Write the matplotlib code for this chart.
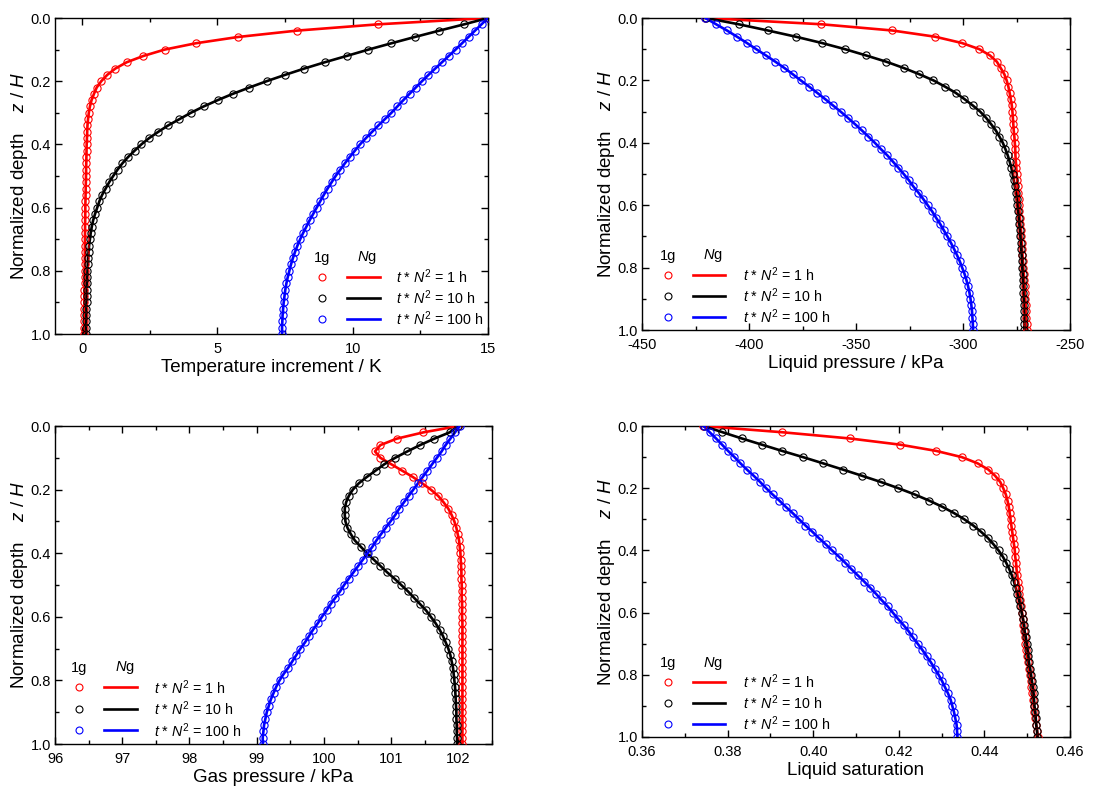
import numpy as np
import matplotlib
matplotlib.use("Agg")
import matplotlib.pyplot as plt
from matplotlib.lines import Line2D
from matplotlib.ticker import MultipleLocator, FormatStrFormatter

plt.rcParams['font.family'] = ['Liberation Sans', 'DejaVu Sans']
plt.rcParams['mathtext.fontset'] = 'custom'
plt.rcParams['mathtext.rm'] = 'Liberation Sans'
plt.rcParams['mathtext.it'] = 'Liberation Sans:italic'

# ---------------- data ----------------
depth = [0.00, 0.02, 0.04, 0.06, 0.08, 0.10, 0.12, 0.14, 0.16, 0.18,
         0.20, 0.22, 0.24, 0.26, 0.28, 0.30, 0.32, 0.34, 0.36, 0.38,
         0.40, 0.42, 0.44, 0.46, 0.48, 0.50, 0.52, 0.54, 0.56, 0.58,
         0.60, 0.62, 0.64, 0.66, 0.68, 0.70, 0.72, 0.74, 0.76, 0.78,
         0.80, 0.82, 0.84, 0.86, 0.88, 0.90, 0.92, 0.94, 0.96, 0.98, 1.00]

series_labels = ["1 h", "10 h", "100 h"]
series_colors = ["#ff0000", "#000000", "#0000ff"]

# Temperature increment / K
temp_1h = [15.00, 10.94, 7.93, 5.77, 4.20, 3.05, 2.27, 1.65, 1.23, 0.93,
           0.71, 0.54, 0.44, 0.35, 0.29, 0.25, 0.22, 0.20, 0.19, 0.18,
           0.17, 0.165, 0.16, 0.155, 0.15, 0.145, 0.14, 0.135, 0.13, 0.125,
           0.12, 0.118, 0.115, 0.112, 0.11, 0.108, 0.105, 0.103, 0.10, 0.098,
           0.096, 0.094, 0.092, 0.09, 0.088, 0.087, 0.085, 0.084, 0.082, 0.081, 0.08]
temp_10h = [15.00, 14.12, 13.20, 12.30, 11.43, 10.58, 9.78, 8.97, 8.21, 7.50,
            6.82, 6.18, 5.57, 5.01, 4.49, 4.02, 3.60, 3.18, 2.82, 2.48,
            2.19, 1.94, 1.70, 1.49, 1.31, 1.15, 1.00, 0.87, 0.74, 0.64,
            0.56, 0.48, 0.41, 0.36, 0.32, 0.29, 0.26, 0.24, 0.22, 0.21,
            0.20, 0.19, 0.18, 0.175, 0.17, 0.165, 0.16, 0.16, 0.155, 0.15, 0.15]
temp_100h = [15.00, 14.76, 14.52, 14.28, 14.04, 13.80, 13.55, 13.30, 13.05, 12.80,
             12.56, 12.33, 12.10, 11.87, 11.65, 11.43, 11.19, 10.95, 10.72, 10.49,
             10.27, 10.08, 9.89, 9.71, 9.54, 9.37, 9.22, 9.07, 8.93, 8.80,
             8.67, 8.54, 8.41, 8.29, 8.17, 8.06, 7.96, 7.87, 7.79, 7.72,
             7.66, 7.60, 7.55, 7.51, 7.48, 7.45, 7.43, 7.41, 7.40, 7.39, 7.39]

# Liquid pressure / kPa
pl_1h = [-420.4, -366.3, -333.1, -313.0, -300.6, -292.3, -287.4, -284.2, -282.4, -280.7,
         -279.6, -278.8, -278.2, -277.7, -277.2, -276.9, -276.7, -276.5, -276.3, -276.0,
         -275.8, -275.6, -275.5, -275.3, -275.1, -274.9, -274.7, -274.5, -274.3, -274.0,
         -273.8, -273.6, -273.4, -273.2, -272.9, -272.7, -272.5, -272.4, -272.2, -272.0,
         -271.8, -271.6, -271.4, -271.2, -271.1, -270.9, -270.7, -270.6, -270.4, -270.3, -270.2]
pl_10h = [-420.0, -404.9, -391.2, -378.1, -366.0, -355.1, -345.3, -335.9, -327.8, -320.5,
          -313.8, -308.4, -303.4, -299.3, -295.5, -292.0, -289.2, -286.9, -284.7, -283.0,
          -281.4, -280.2, -279.1, -278.2, -277.4, -276.8, -276.3, -275.8, -275.3, -274.9,
          -274.6, -274.3, -274.0, -273.7, -273.4, -273.2, -273.0, -272.8, -272.6, -272.4,
          -272.3, -272.1, -272.0, -271.9, -271.8, -271.6, -271.6, -271.5, -271.4, -271.4, -271.3]
pl_100h = [-420.4, -415.4, -410.3, -405.6, -401.0, -396.6, -392.1, -387.7, -383.5, -379.6,
           -375.8, -371.9, -368.1, -364.4, -360.8, -357.2, -353.8, -350.5, -347.3, -344.2,
           -341.2, -338.4, -335.4, -332.8, -330.2, -327.7, -325.3, -323.2, -320.8, -318.6,
           -316.5, -314.4, -312.6, -310.7, -309.0, -307.3, -305.7, -304.2, -302.8, -301.5,
           -300.4, -299.3, -298.4, -297.6, -297.0, -296.5, -296.1, -295.8, -295.6, -295.4, -295.4]

# Gas pressure / kPa
pg_1h = [102.00, 101.48, 101.08, 100.84, 100.76, 100.84, 101.00, 101.16, 101.32, 101.46,
         101.59, 101.70, 101.78, 101.85, 101.90, 101.94, 101.97, 101.99, 102.01, 102.02,
         102.03, 102.035, 102.04, 102.045, 102.045, 102.05, 102.05, 102.05, 102.055, 102.055,
         102.055, 102.06, 102.06, 102.06, 102.06, 102.06, 102.06, 102.06, 102.06, 102.06,
         102.06, 102.06, 102.06, 102.06, 102.06, 102.06, 102.06, 102.06, 102.06, 102.06, 102.06]
pg_10h = [102.00, 101.87, 101.64, 101.43, 101.24, 101.06, 100.90, 100.77, 100.64, 100.52,
          100.43, 100.37, 100.33, 100.31, 100.31, 100.32, 100.35, 100.40, 100.46, 100.55,
          100.64, 100.74, 100.84, 100.94, 101.05, 101.15, 101.25, 101.34, 101.43, 101.52,
          101.59, 101.66, 101.72, 101.77, 101.81, 101.85, 101.88, 101.90, 101.92, 101.93,
          101.94, 101.95, 101.955, 101.96, 101.965, 101.97, 101.97, 101.975, 101.975, 101.98, 101.98]
pg_100h = [102.02, 101.95, 101.88, 101.81, 101.75, 101.68, 101.61, 101.54, 101.47, 101.40,
           101.33, 101.26, 101.19, 101.12, 101.06, 100.99, 100.92, 100.85, 100.78, 100.72,
           100.65, 100.58, 100.51, 100.44, 100.37, 100.30, 100.24, 100.17, 100.10, 100.04,
           99.97, 99.91, 99.84, 99.78, 99.72, 99.65, 99.59, 99.53, 99.47, 99.40,
           99.34, 99.29, 99.25, 99.21, 99.18, 99.15, 99.13, 99.11, 99.10, 99.09, 99.09]

# Liquid saturation
sl_1h = [0.3742, 0.3927, 0.4085, 0.4203, 0.4287, 0.4347, 0.4384, 0.4409, 0.4425, 0.4437,
         0.4444, 0.4450, 0.4454, 0.4457, 0.4459, 0.4461, 0.4463, 0.4465, 0.4467, 0.4469,
         0.4471, 0.4472, 0.4474, 0.4475, 0.4477, 0.4479, 0.4481, 0.4482, 0.4484, 0.4486,
         0.4488, 0.4490, 0.4491, 0.4492, 0.4494, 0.4496, 0.4498, 0.4500, 0.4502, 0.4504,
         0.4506, 0.4508, 0.4510, 0.4512, 0.4514, 0.4515, 0.4517, 0.4519, 0.4521, 0.4523, 0.4525]
sl_10h = [0.3744, 0.3788, 0.3833, 0.3880, 0.3927, 0.3976, 0.4023, 0.4069, 0.4114, 0.4158,
          0.4199, 0.4237, 0.4271, 0.4302, 0.4329, 0.4353, 0.4374, 0.4392, 0.4408, 0.4421,
          0.4433, 0.4443, 0.4451, 0.4458, 0.4464, 0.4469, 0.4473, 0.4477, 0.4481, 0.4484,
          0.4487, 0.4490, 0.4493, 0.4494, 0.4497, 0.4499, 0.4501, 0.4503, 0.4504, 0.4507,
          0.4509, 0.4511, 0.4513, 0.4515, 0.4516, 0.4517, 0.4519, 0.4520, 0.4521, 0.4523, 0.4524]
sl_100h = [0.3744, 0.3758, 0.3773, 0.3787, 0.3801, 0.3816, 0.3830, 0.3845, 0.3861, 0.3876,
           0.3890, 0.3905, 0.3921, 0.3936, 0.3952, 0.3967, 0.3982, 0.3998, 0.4013, 0.4029,
           0.4044, 0.4060, 0.4075, 0.4089, 0.4104, 0.4119, 0.4133, 0.4147, 0.4160, 0.4174,
           0.4186, 0.4198, 0.4211, 0.4223, 0.4233, 0.4244, 0.4255, 0.4265, 0.4275, 0.4284,
           0.4293, 0.4301, 0.4308, 0.4315, 0.4321, 0.4325, 0.4329, 0.4332, 0.4335, 0.4336, 0.4337]

x_labels = ["Temperature increment / K", "Liquid pressure / kPa",
            "Gas pressure / kPa", "Liquid saturation"]
y_label = r"Normalized depth    $z$ / $H$"

# ---------------- layout ----------------
W, H = 1119, 787
fig = plt.figure(figsize=(W / 100, H / 100), dpi=100)


def axes_px(l, t, r, b):
    return fig.add_axes([l / W, 1 - b / H, (r - l) / W, (b - t) / H])


panels = [
    dict(box=(55, 18, 488, 334), data=[temp_1h, temp_10h, temp_100h],
         xlim=(-1, 15), major=5, minor=2.5, fmt="%d",
         leg=dict(y0=258, dy=21, xm=322, xl0=347, xl1=380, xt=396, xng=367)),
    dict(box=(642, 18, 1070, 330), data=[pl_1h, pl_10h, pl_100h],
         xlim=(-450, -250), major=50, minor=25, fmt="%d",
         leg=dict(y0=256, dy=21, xm=668, xl0=693, xl1=725, xt=743, xng=713)),
    dict(box=(55, 426, 492, 744), data=[pg_1h, pg_10h, pg_100h],
         xlim=(96, 102.5), major=1, minor=0.5, fmt="%d",
         leg=dict(y0=668, dy=21.5, xm=79, xl0=104, xl1=137, xt=154, xng=125)),
    dict(box=(642, 426, 1070, 737), data=[sl_1h, sl_10h, sl_100h],
         xlim=(0.36, 0.46), major=0.02, minor=0.01, fmt="%.2f",
         leg=dict(y0=663, dy=21, xm=668, xl0=693, xl1=725, xt=743, xng=713)),
]

for i, p in enumerate(panels):
    ax = axes_px(*p["box"])
    for vals, col in zip(p["data"], series_colors):
        ax.plot(vals, depth, color=col, lw=1.9, zorder=3)
        ax.plot(vals, depth, ls="none", marker="o", ms=5.2, mfc="none",
                mec=col, mew=0.8, zorder=4)
    ax.set_xlim(*p["xlim"])
    ax.set_ylim(1.0, 0.0)
    ax.xaxis.set_major_locator(MultipleLocator(p["major"]))
    ax.xaxis.set_minor_locator(MultipleLocator(p["minor"]))
    ax.xaxis.set_major_formatter(FormatStrFormatter(p["fmt"]))
    ax.yaxis.set_major_locator(MultipleLocator(0.2))
    ax.yaxis.set_minor_locator(MultipleLocator(0.1))
    ax.yaxis.set_major_formatter(FormatStrFormatter("%.1f"))
    ax.tick_params(which="both", direction="in", top=True, right=True,
                   labelsize=10.5, width=1.0)
    ax.tick_params(axis="x", which="both", pad=6)
    ax.tick_params(axis="y", which="both", pad=3)
    ax.tick_params(which="major", length=5)
    ax.tick_params(which="minor", length=3)
    for s in ax.spines.values():
        s.set_linewidth(1.0)
    ax.set_xlabel(x_labels[i], fontsize=13.5, labelpad=2)
    ax.set_ylabel(y_label, fontsize=13.5, labelpad=0)

    # custom legend: 1g markers, Ng lines
    L = p["leg"]
    fy = lambda y: 1 - y / H
    fx = lambda x: x / W
    fig.text(fx(L["xm"]), fy(L["y0"]), "1g", ha="center", va="center", fontsize=10.5)
    fig.text(fx(L["xng"]), fy(L["y0"]), r"$N$g", ha="center", va="center", fontsize=10.5)
    for k, (lab, col) in enumerate(zip(series_labels, series_colors)):
        yy = L["y0"] + L["dy"] * (k + 0.9)
        fig.add_artist(Line2D([fx(L["xm"])], [fy(yy)], transform=fig.transFigure,
                              ls="none", marker="o", ms=5.0, mfc="none", mec=col, mew=0.8))
        fig.add_artist(Line2D([fx(L["xl0"]), fx(L["xl1"])], [fy(yy), fy(yy)],
                              transform=fig.transFigure, color=col, lw=1.9))
        fig.text(fx(L["xt"]), fy(yy), r"$t$ * $N^2$ = " + lab, ha="left", va="center",
                 fontsize=10.3)

fig.savefig("out.png", dpi=100)
